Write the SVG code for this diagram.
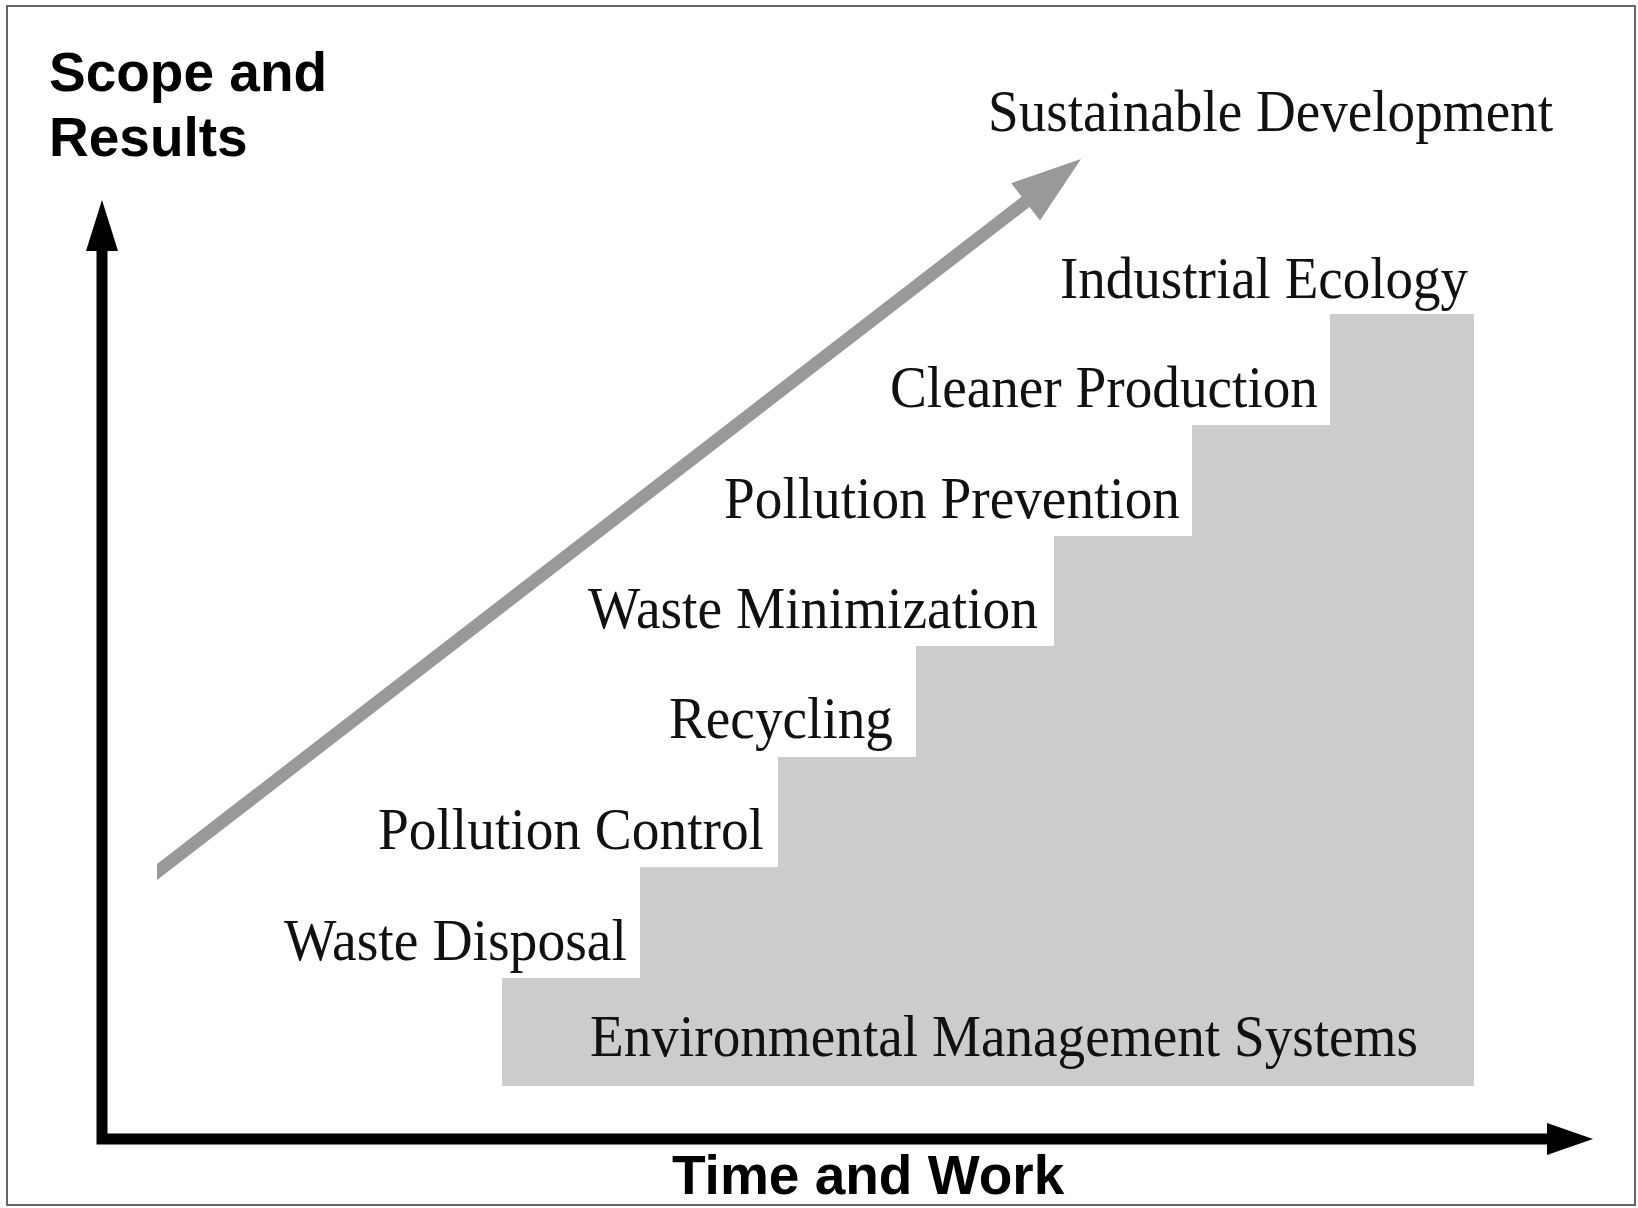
<svg xmlns="http://www.w3.org/2000/svg" width="1638" height="1208" viewBox="0 0 1638 1208">
<style>
.lbl{font-family:"Liberation Serif","Times New Roman",serif;font-size:60px;fill:#111}
.ax{font-family:"Liberation Sans",Arial,sans-serif;font-size:55px;font-weight:bold;fill:#000}
</style>
<rect x="0" y="0" width="1638" height="1208" fill="#fff"/>
<rect x="7" y="6" width="1628" height="1199" fill="none" stroke="#666" stroke-width="2"/>
<g id="stairs">
<path d="M502,1086 L502,978 L640,978 L640,867 L778,867 L778,757 L916,757 L916,646 L1054,646 L1054,536 L1192,536 L1192,425 L1330,425 L1330,314 L1474,314 L1474,1086 Z" fill="#cccccc"/>
</g>
<g id="connectors">
<path d="M102,248 L102,1139 L1550,1139" fill="none" stroke="#000" stroke-width="11" stroke-linejoin="miter"/>
<polygon points="102,200 86,251 118,251" fill="#000"/>
<polygon points="1593,1139 1547,1123 1547,1155" fill="#000"/>
<polygon id="trend-arrow" points="157,864 1021.6,196.7 1011.2,183.2 1081,159 1040,220.4 1029.6,206.9 157,880" fill="#999"/>
</g>
<g id="axis-y"><text class="ax" x="49" y="91">Scope and</text><text class="ax" x="49" y="156">Results</text></g>
<g id="axis-x"><text class="ax" x="672" y="1194">Time and Work</text></g>
<g id="n-sd"><text class="lbl" x="988" y="131" textLength="565" lengthAdjust="spacingAndGlyphs">Sustainable Development</text></g>
<g id="n-ie"><text class="lbl" x="1060" y="298" textLength="408" lengthAdjust="spacingAndGlyphs">Industrial Ecology</text></g>
<g id="n-cp"><text class="lbl" x="890" y="407" textLength="428" lengthAdjust="spacingAndGlyphs">Cleaner Production</text></g>
<g id="n-pp"><text class="lbl" x="724" y="518" textLength="456" lengthAdjust="spacingAndGlyphs">Pollution Prevention</text></g>
<g id="n-wm"><text class="lbl" x="588" y="628" textLength="450" lengthAdjust="spacingAndGlyphs">Waste Minimization</text></g>
<g id="n-rc"><text class="lbl" x="669" y="738" textLength="224" lengthAdjust="spacingAndGlyphs">Recycling</text></g>
<g id="n-pc"><text class="lbl" x="378" y="849" textLength="386" lengthAdjust="spacingAndGlyphs">Pollution Control</text></g>
<g id="n-wd"><text class="lbl" x="284" y="960" textLength="343" lengthAdjust="spacingAndGlyphs">Waste Disposal</text></g>
<g id="n-ems"><text class="lbl" x="590" y="1056" textLength="828" lengthAdjust="spacingAndGlyphs">Environmental Management Systems</text></g>
</svg>
